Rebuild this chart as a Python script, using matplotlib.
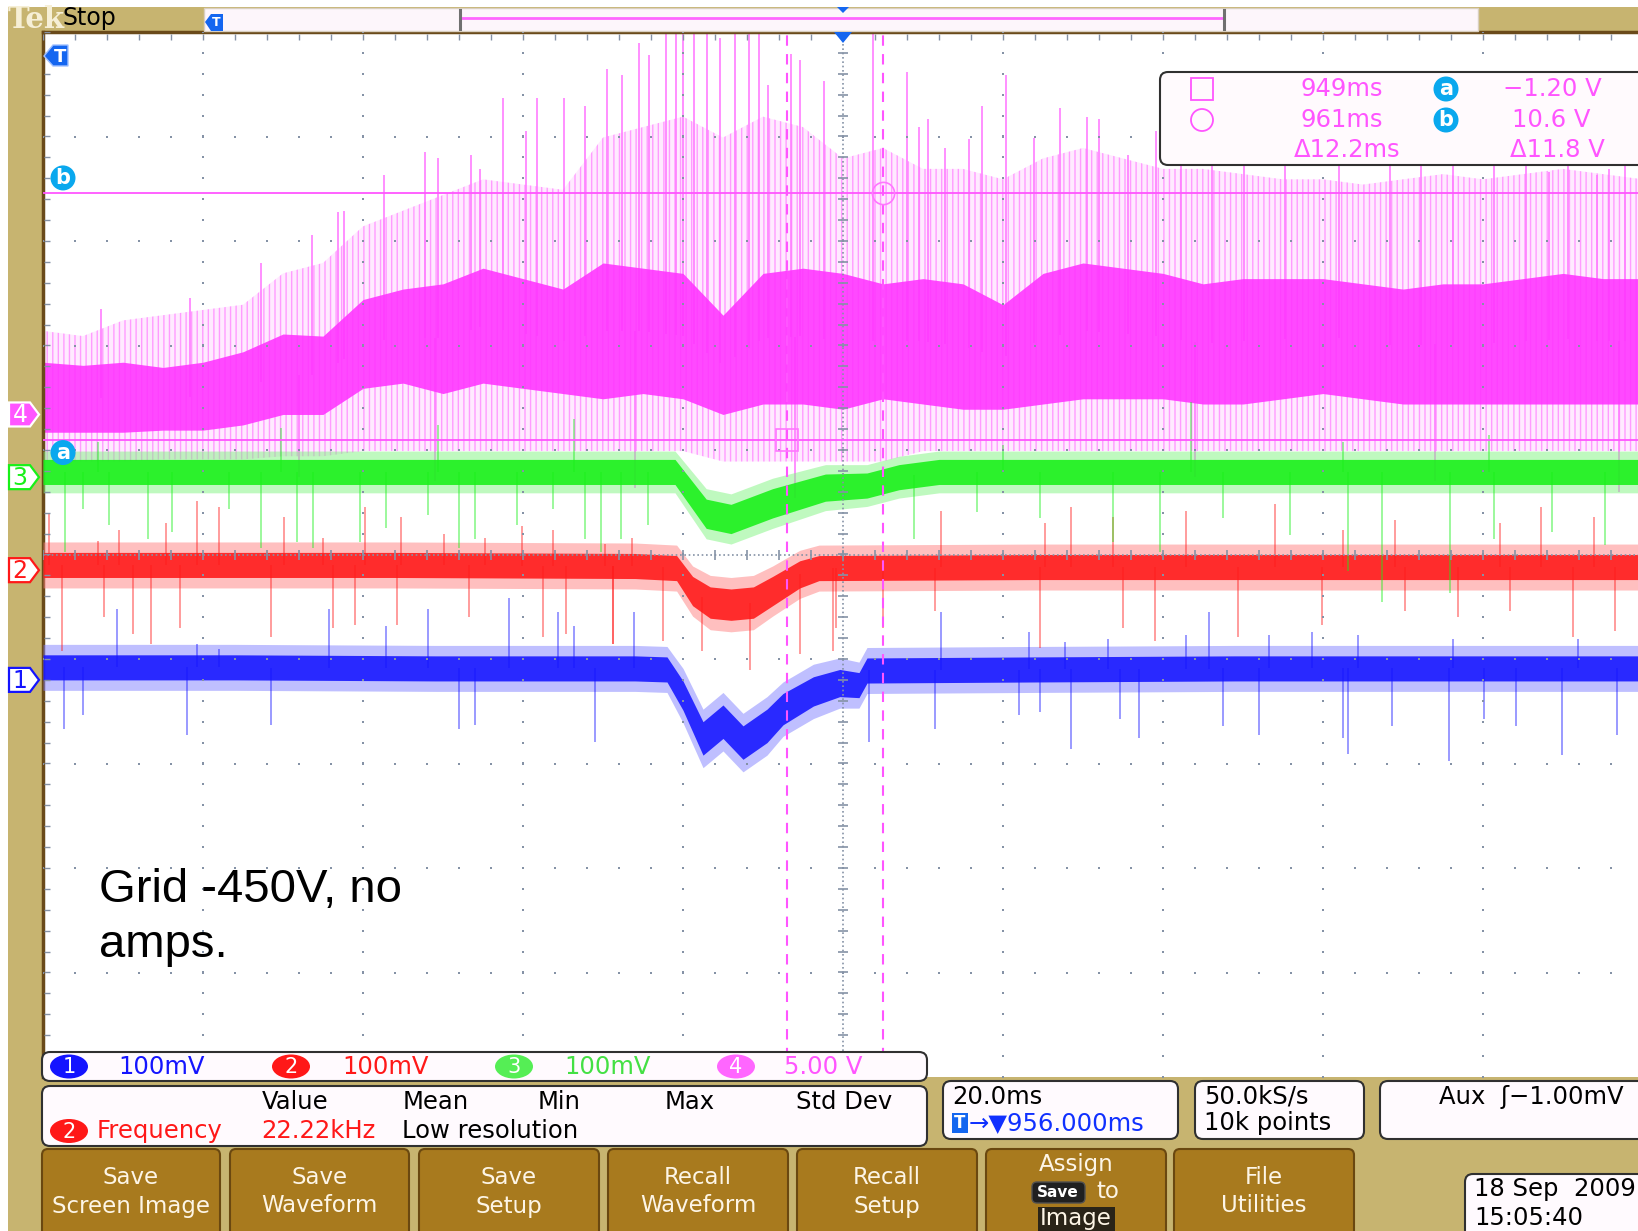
import numpy as np
import matplotlib
matplotlib.use("Agg")
import matplotlib.pyplot as plt
from matplotlib.patches import Rectangle, FancyBboxPatch, Polygon, Circle, Ellipse

plt.rcParams['font.family'] = ['DejaVu Sans']
plt.rcParams['hatch.linewidth'] = 1.0

# ---------------- data ----------------
T_START, T_STOP, T_DIV = 856.0, 1056.0, 20.0      # ms, 20.0 ms/div
TRIG_T = 956.0                                    # ms (trigger position)
CURSOR_T = [949.0, 961.0]                         # ms  (vertical cursors)
CURSOR_V = [-1.20, 10.6]                          # V   (horizontal cursors a, b on ch4)
CH_SCALE = {1: 100.0, 2: 100.0, 3: 100.0, 4: 5.0} # mV/div, V/div
CH_POS = {1: -1.20, 2: -0.15, 3: 0.74, 4: 1.34}   # ground marker position, divisions

# Channel 1 (blue, mV)
ch1_t = [856, 880, 905, 930, 934, 936, 938.5, 941, 943.5, 946.5, 948.5, 952.3, 955.6, 958, 959, 980, 1005, 1030, 1056]
ch1_mid = [12, 12, 11, 11, 10, -15, -56, -40, -60, -44, -28, -11, -3, -5, 9, 10, 11, 11, 11]
ch1_core = [12, 12, 12, 12, 12, 14, 16, 16, 16, 16, 15, 14, 13, 12, 12, 12, 12, 12, 12]
ch1_env = [22, 22, 22, 22, 22, 26, 28, 28, 28, 28, 26, 26, 24, 22, 22, 22, 22, 22, 22]
ch1_spk_t = [865.2, 875.3, 878.0, 891.7, 898.9, 904.1, 914.2, 920.4, 922.4, 929.9, 968.2, 979.3, 983.8,
             989.1, 998.9, 1001.8, 1009.3, 1014.6, 1020.4, 1032.2, 1047.9,
             858.6, 861.0, 874.0, 884.5, 908.0, 910.0, 925.0, 959.3, 967.5, 978.0, 980.6, 984.5, 990.6,
             993.0, 1003.5, 1008.0, 1018.5, 1019.1, 1024.6, 1031.8, 1036.1, 1040.1, 1045.9, 1052.7]
ch1_spk_v = [68, 34, 30, 68, 52, 68, 78, 65, 52, 65, 65, 46, 36, 39, 43, 65, 43, 46, 43, 39, 39,
             -47, -34, -53, -43, -47, -43, -59, -59, -47, -34, -31, -66, -37, -56, -44, -53, -56, -71,
             -44, -78, -37, -44, -72, -53]

# Channel 2 (red, mV)
ch2_t = [856, 900, 930, 935.2, 937.2, 939.4, 942, 944.8, 947.2, 950.6, 953, 980, 1020, 1056]
ch2_mid = [5, 5, 4, 2, -20, -31, -33, -31, -20, -4, 2, 3, 3, 3]
ch2_core = [12, 12, 12, 12, 14, 15, 15, 15, 14, 13, 12, 12, 12, 12]
ch2_env = [22, 22, 22, 22, 24, 26, 26, 26, 24, 23, 22, 22, 22, 22]
ch2_spk_t = [856.7, 862.9, 865.5, 871.4, 875.3, 878.0, 886.1, 891.0, 896.3, 900.8, 906.1, 911.3, 915.9,
             919.8, 926.3, 929.6, 968.2, 981.2, 984.5, 989.7, 998.9, 1010.0, 1018.5, 1025.0, 1038.1,
             1043.3, 1049.9,
             858.4, 863.6, 867.2, 869.5, 873.1, 884.5, 892.3, 895.0, 900.2, 909.3, 918.5, 921.4, 927.3,
             933.5, 927.2, 938.4, 944.4, 950.6, 954.8, 955.1, 961.0, 967.5, 980.6, 991.0, 995.0, 1005.4,
             1015.9, 1026.3, 1032.9, 1039.4, 1047.2, 1052.5]
ch2_spk_v = [54, 28, 38, 45, 66, 60, 51, 31, 60, 51, 35, 31, 42, 38, 25, 31, 57, 45, 60, 51, 57, 63, 38,
             48, 45, 60, 51,
             -77, -45, -61, -71, -55, -64, -55, -52, -52, -45, -64, -61, -71, -68, -71, -77, -96, -80,
             -77, -55, -55, -39, -74, -55, -68, -64, -52, -39, -45, -39, -64, -58]

# Channel 3 (green, mV)
ch3_t = [856, 900, 930, 935, 938.9, 942, 947.2, 953.8, 959, 963, 968, 1000, 1056]
ch3_mid = [5, 5, 5, 5, -35, -40, -25, -10, -8, 0, 5, 5, 5]
ch3_core = [12, 12, 12, 12, 14, 14, 14, 13, 12, 12, 12, 12, 12]
ch3_env = [20, 20, 20, 20, 24, 24, 24, 22, 20, 20, 20, 20, 20]
ch3_spk_t = [858.7, 861.0, 864.2, 869.1, 872.1, 879.3, 883.2, 887.8, 889.7, 895.6, 898.9, 904.1, 908.0,
             910.0, 915.2, 919.8, 923.7, 925.7, 928.3, 931.6, 964.9, 972.7, 980.6, 989.7, 995.6, 1003.5,
             1011.9, 1019.1, 1023.4, 1031.9, 1037.4, 1044.6, 1051.2,
             862.9, 885.8, 905.4, 922.4, 976.0, 999.5, 1018.5, 1036.8]
ch3_spk_v = [-72, -30, -46, -59, -52, -30, -68, -62, -68, -62, -49, -36, -68, -59, -46, -30, -59, -72,
             -59, -46, -59, -33, -39, -62, -72, -39, -55, -90, -119, -111, -59, -52, -65,
             34, 47, 50, 56, 31, 72, 34, 40]

# Channel 4 (magenta, V)
ch4_t = [856, 861, 866, 871, 876, 881, 886, 891, 896, 901, 906, 911, 916, 921, 926, 931, 936, 941,
         946, 951, 956, 961, 966, 971, 976, 981, 986, 991, 996, 1001, 1006, 1011, 1016, 1021, 1026,
         1031, 1036, 1041, 1046, 1051, 1056]
ch4_core_hi = [2.5, 2.35, 2.5, 2.25, 2.5, 3.0, 3.85, 3.75, 5.5, 6.0, 6.25, 7.0, 6.5, 6.0, 7.25, 7.0,
               6.75, 4.75, 6.75, 7.0, 6.75, 6.25, 6.5, 6.25, 5.25, 6.75, 7.25, 7.0, 6.75, 6.25, 6.5,
               6.5, 6.5, 6.25, 6.0, 6.25, 6.25, 6.5, 6.75, 6.5, 6.5]
ch4_core_lo = [-0.85, -0.85, -0.85, -0.75, -0.75, -0.5, 0.0, 0.0, 1.25, 1.5, 1.0, 1.5, 1.25, 1.0, 0.75,
               1.0, 0.75, 0.0, 0.5, 0.5, 0.25, 0.75, 0.5, 0.25, 0.25, 0.5, 0.75, 0.75, 0.75, 0.5, 0.5,
               0.75, 1.0, 0.75, 0.5, 0.5, 0.5, 0.5, 0.5, 0.5, 0.5]
ch4_env_hi = [4.0, 3.75, 4.5, 4.75, 5.0, 5.25, 6.75, 7.25, 9.0, 9.75, 10.5, 11.25, 11.0, 10.75, 13.25,
              13.75, 14.25, 13.25, 14.25, 13.75, 12.25, 12.75, 11.75, 11.75, 11.25, 12.25, 12.75,
              12.25, 11.75, 11.75, 11.5, 11.25, 11.25, 11.0, 11.25, 11.5, 11.25, 11.5, 11.75, 11.5, 11.25]
ch4_env_lo = [-2.25, -2.25, -2.25, -2.15, -2.15, -2.15, -2.0, -2.0, -1.75, -1.75, -1.75, -1.75, -1.75,
              -1.75, -1.75, -1.75, -1.75, -2.25, -2.25, -2.25, -2.25, -2.25, -1.75, -1.75, -1.75, -1.75,
              -1.75, -1.75, -1.75, -1.75, -1.75, -1.75, -1.75, -1.75, -1.75, -1.75, -1.75, -1.75, -1.75,
              -1.75, -1.75]
ch4_spk_t = [863.3, 874.4, 889.6, 892.9, 898.6, 903.8, 909.5, 913.5, 916.4, 917.8, 921.1, 926.5, 928.4,
             930.5, 931.7, 933.9, 935.1, 936.0, 937.4, 939.0, 940.6, 942.5, 944.2, 945.5, 946.6, 949.5,
             950.6, 953.6, 959.8, 964.0, 966.6, 971.8, 976.4, 983.1, 988.0, 991.6, 995.1, 1018.0,
             1032.2, 1044.2, 1050.2, 1053.8,
             883.2, 893.6, 905.4, 910.6, 923.7, 965.5, 968.8, 973.4, 979.9, 986.5, 998.2, 1002.1,
             1006.1, 1011.3, 1024.4, 1028.3, 1037.4, 1041.4, 1046.6, 1051.8,
             888.0, 905.0, 930.0, 950.0, 1000.0, 1030.0, 1053.0]
ch4_spk_v = [5.05, 5.55, 8.6, 9.7, 11.45, 12.55, 12.4, 15.15, 13.55, 15.15, 15.15, 16.55, 16.25, 17.75,
             17.2, 18.5, 18.5, 18.5, 18.5, 18.5, 18.0, 18.5, 18.5, 18.5, 15.75, 17.25, 16.95, 15.95,
             18.5, 16.4, 14.15, 13.2, 16.25, 14.65, 14.15, 12.4, 13.55, 11.95, 11.95, 11.6, 11.45, 12.25,
             7.25, 9.75, 12.25, 11.75, 14.75, 13.75, 12.75, 14.75, 13.25, 14.25, 13.25, 12.75,
             13.75, 12.25, 12.75, 12.25, 13.25, 12.5, 12.75, 11.75,
             -3.0, -3.2, -3.5, -4.0, -3.0, -3.2, -3.7]

# readouts
ch_labels = ['100mV', '100mV', '100mV', '5.00 V']
meas_headers = ['Value', 'Mean', 'Min', 'Max', 'Std Dev']
buttons = [['Save', 'Screen Image'], ['Save', 'Waveform'], ['Save', 'Setup'], ['Recall', 'Waveform'],
           ['Recall', 'Setup'], None, ['File', 'Utilities']]

# ---------------- colours ----------------
TAN = '#c7b470'
MAG = '#ff22ff'; MAG_L = '#ffa8ff'; MAG_T = '#ff55ff'
BLU = '#1414ff'; BLU_L = '#8080ff'
RED = '#ff1818'; RED_L = '#ff8080'
GRN = '#18f018'; GRN_L = '#80f580'
CYAN = '#0aa8ee'
DOT = '#8592a6'
BTN = '#a87a1e'

W, H = 1638, 1231
fig = plt.figure(figsize=(W / 100, H / 100), dpi=100)
fig.patch.set_facecolor('white')

bg = fig.add_axes([0, 0, 1, 1], zorder=0)
bg.set_xlim(0, W); bg.set_ylim(H, 0); bg.axis('off')
bg.add_patch(Rectangle((8, 7), W - 8, H - 7, color=TAN, lw=0))

# scope screen
L, TOP, BOT, RIGHT = 43, 32, 1077, 1643
sc = fig.add_axes([L / W, 1 - BOT / H, (RIGHT - L) / W, (BOT - TOP) / H], zorder=1)
sc.set_xlim(T_START, T_STOP); sc.set_ylim(-5, 5)
sc.set_facecolor('white')
sc.set_xticks([]); sc.set_yticks([])
for s in ['right', 'bottom']:
    sc.spines[s].set_visible(False)
for s in ['top', 'left']:
    sc.spines[s].set_color('#6a4a1a'); sc.spines[s].set_linewidth(2.5)

# graticule
ys_minor = np.arange(-5, 5.001, 0.2)
xs_minor = np.arange(T_START, T_STOP + 0.01, T_DIV / 5)
for i in range(1, 10):
    t = T_START + i * T_DIV
    if abs(t - TRIG_T) < 1e-6:
        continue
    sc.plot(np.full(ys_minor.size, t), ys_minor, ls='none', marker='s', ms=1.6, color=DOT, mew=0, zorder=6)
for j in range(-4, 5):
    if j == 0:
        continue
    sc.plot(xs_minor, np.full(xs_minor.size, j), ls='none', marker='s', ms=1.6, color=DOT, mew=0, zorder=6)
sc.plot([TRIG_T, TRIG_T], [-5, 5], ls=(0, (1, 1.6)), color=DOT, lw=1.2, zorder=6)
sc.plot(np.full(ys_minor.size, TRIG_T), ys_minor, ls='none', marker='_', ms=7, mew=1.2, color=DOT, zorder=6)
sc.plot([T_START, T_STOP], [0, 0], ls=(0, (1, 1.6)), color=DOT, lw=1.2, zorder=6)
sc.plot(xs_minor, np.zeros(xs_minor.size), ls='none', marker='|', ms=7, mew=1.2, color=DOT, zorder=6)
sc.plot(xs_minor, np.full(xs_minor.size, 4.95), ls='none', marker='|', ms=4, mew=1.0, color=DOT, zorder=6)
sc.plot(np.full(ys_minor.size, T_START + 0.5), ys_minor, ls='none', marker='_', ms=5, mew=1.0, color=DOT, zorder=6)


def to_div(ch, v):
    return CH_POS[ch] + np.asarray(v, float) / CH_SCALE[ch]


def draw_channel(ch, t, mid, core, env, spk_t, spk_v, col, col_l, z):
    mid = np.asarray(mid, float); core = np.asarray(core, float); env = np.asarray(env, float)
    # light noise fringe
    sc.fill_between(t, to_div(ch, mid - env), to_div(ch, mid + env), color=col_l, lw=0, alpha=0.5, zorder=z)
    base = np.interp(spk_t, t, mid)
    sc.vlines(spk_t, to_div(ch, base), to_div(ch, spk_v), color=col, lw=1.2, alpha=0.5, zorder=z + 0.1)
    # dense core
    sc.fill_between(t, to_div(ch, mid - core), to_div(ch, mid + core), color=col, lw=0, alpha=0.88,
                    zorder=z + 0.2)


# channel 4
t4 = np.asarray(ch4_t, float)
sc.fill_between(t4, to_div(4, ch4_env_lo), to_div(4, ch4_env_hi), facecolor='#ffeaff', edgecolor='#ff9cff',
                hatch='|||', lw=0, zorder=2)
base4 = np.interp(ch4_spk_t, t4, (np.asarray(ch4_core_hi) + np.asarray(ch4_core_lo)) / 2)
sc.vlines(ch4_spk_t, to_div(4, base4), to_div(4, ch4_spk_v), color='#ff7cff', lw=1.4, alpha=0.85, zorder=2.1)
sc.fill_between(t4, to_div(4, ch4_core_lo), to_div(4, ch4_core_hi), color='#ff33ff', lw=0, alpha=0.88,
                zorder=2.2)

draw_channel(1, ch1_t, ch1_mid, ch1_core, ch1_env, ch1_spk_t, ch1_spk_v, BLU, BLU_L, 3)
draw_channel(2, ch2_t, ch2_mid, ch2_core, ch2_env, ch2_spk_t, ch2_spk_v, RED, RED_L, 4)
draw_channel(3, ch3_t, ch3_mid, ch3_core, ch3_env, ch3_spk_t, ch3_spk_v, GRN, GRN_L, 5)

# cursors
for ct in CURSOR_T:
    sc.axvline(ct, color=MAG_T, lw=1.5, ls=(0, (5, 4)), zorder=7)
ya, yb = to_div(4, CURSOR_V[0]), to_div(4, CURSOR_V[1])
sc.axhline(ya, color=MAG_T, lw=1.3, zorder=7)
sc.axhline(yb, color=MAG_T, lw=1.3, zorder=7)
sc.plot([CURSOR_T[0]], [ya], marker='s', ms=16, mfc='none', mec='#ff77ff', mew=1.2, zorder=7)
sc.plot([CURSOR_T[1]], [yb], marker='o', ms=16, mfc='none', mec='#ff77ff', mew=1.2, zorder=7)

# ---------------- overlay UI ----------------
ui = fig.add_axes([0, 0, 1, 1], zorder=2)
ui.set_xlim(0, W); ui.set_ylim(H, 0); ui.axis('off'); ui.patch.set_alpha(0)


def div_px(t, ydiv):
    p = sc.transData.transform((t, ydiv))
    return ui.transData.inverted().transform(p)


FS = 17.5
# header
ui.text(8, 19, 'Tek', color='#f6efd6', fontsize=21, family='DejaVu Serif', fontweight='bold', va='center')
ui.text(63, 18, 'Stop', color='black', fontsize=17, va='center')
ui.add_patch(Rectangle((204, 8), 1274, 23, fc='#fdf6fb', ec='#d9cfc0', lw=1))
ui.plot([460, 1224], [18, 18], color='#ff66ff', lw=2)
ui.plot([460, 460], [10, 29], color='#707070', lw=2.2)
ui.plot([1224, 1224], [10, 29], color='#707070', lw=2.2)
ui.add_patch(Polygon([(205, 22), (211, 14), (223, 14), (223, 31), (211, 31)], closed=True, fc='#1466f0', lw=0))
ui.text(216, 23, 'T', color='white', fontsize=9, fontweight='bold', ha='center', va='center')
ui.add_patch(Polygon([(837, 7), (849, 7), (843, 13)], closed=True, fc='#1466f0', lw=0))

# trigger position marker
xt, ytop = div_px(TRIG_T, 5)
ui.add_patch(Polygon([(xt - 9, ytop), (xt + 9, ytop), (xt, ytop + 11)], closed=True, fc='#1466f0', lw=0))

# T marker top-left
ui.add_patch(Polygon([(44, 56), (53, 45), (68, 45), (68, 66), (53, 66)], closed=True, fc='#1466f0', ec='#a0c0ff', lw=1))
ui.text(60, 56.5, 'T', color='white', fontsize=13, fontweight='bold', ha='center', va='center')

# cursor a/b icons
for lab, v, dy in [('a', CURSOR_V[0], 13), ('b', CURSOR_V[1], -15)]:
    _, yy = div_px(T_START, to_div(4, v))
    ui.add_patch(Circle((63, yy + dy), 12.5, fc=CYAN, lw=0))
    ui.text(63, yy + dy, lab, color='white', fontsize=15, fontweight='bold', ha='center', va='center')

# channel ground markers
mk = {1: (BLU, 'white', BLU), 2: (RED, 'white', RED), 3: (GRN, 'white', GRN), 4: ('#ff55ff', '#ff55ff', 'white')}
for ch in [4, 3, 2, 1]:
    _, yy = div_px(T_START, CH_POS[ch])
    ec, fc, tc = mk[ch]
    ui.add_patch(Polygon([(9, yy - 12), (30, yy - 12), (39, yy), (30, yy + 12), (9, yy + 12)], closed=True,
                         fc=fc, ec=ec if ch != 4 else 'white', lw=1.6))
    ui.text(20, yy + 1, str(ch), color=tc, fontsize=17, ha='center', va='center')

# cursor readout box
ui.add_patch(FancyBboxPatch((1160, 72), 500, 93, boxstyle='round,pad=0,rounding_size=8', fc='#fffafd',
                            ec='#303030', lw=1.5, zorder=3))
ui.add_patch(Rectangle((1191, 78), 22, 22, fc='none', ec=MAG_T, lw=1.3, zorder=4))
ui.add_patch(Circle((1202, 120), 11, fc='none', ec=MAG_T, lw=1.3, zorder=4))
ui.text(1383, 89, '949ms', color=MAG_T, fontsize=FS, ha='right', va='center', zorder=4)
ui.text(1383, 120, '961ms', color=MAG_T, fontsize=FS, ha='right', va='center', zorder=4)
ui.text(1400, 150, 'Δ12.2ms', color=MAG_T, fontsize=FS, ha='right', va='center', zorder=4)
for lab, yy in [('a', 89), ('b', 120)]:
    ui.add_patch(Circle((1446, yy), 12.5, fc=CYAN, lw=0, zorder=4))
    ui.text(1446, yy, lab, color='white', fontsize=15, fontweight='bold', ha='center', va='center', zorder=5)
ui.text(1602, 89, '−1.20 V', color=MAG_T, fontsize=FS, ha='right', va='center', zorder=4)
ui.text(1591, 120, '10.6 V', color=MAG_T, fontsize=FS, ha='right', va='center', zorder=4)
ui.text(1605, 150, 'Δ11.8 V', color=MAG_T, fontsize=FS, ha='right', va='center', zorder=4)

# annotation
ui.text(99, 890, 'Grid -450V, no', family='Liberation Sans', fontsize=34, color='black',
        va='center', ha='left')
ui.text(99, 945, 'amps.', family='Liberation Sans', fontsize=34, color='black',
        va='center', ha='left')

# channel readout box
ui.add_patch(FancyBboxPatch((42, 1052), 885, 29, boxstyle='round,pad=0,rounding_size=8', fc='#fffafe',
                            ec='#303030', lw=1.5, zorder=3))
ch_cols = [(BLU, BLU), (RED, RED), ('#55ee55', '#44e044'), ('#ff66ff', '#ff55ff')]
for k, (x_e, x_t) in enumerate([(69, 118), (291, 342), (514, 564), (736, 784)]):
    ui.add_patch(Ellipse((x_e, 1066.5), 38, 24, fc=ch_cols[k][0], lw=0, zorder=4))
    ui.text(x_e, 1067, str(k + 1), color='white', fontsize=15, ha='center', va='center', zorder=5)
    ui.text(x_t, 1067, ch_labels[k], color=ch_cols[k][1], fontsize=FS, ha='left', va='center', zorder=5)

# measurement box
ui.add_patch(FancyBboxPatch((42, 1086), 885, 60, boxstyle='round,pad=0,rounding_size=8', fc='#fffafe',
                            ec='#303030', lw=1.5, zorder=3))
for hx, hd in zip([295, 436, 559, 690, 844], meas_headers):
    ui.text(hx, 1102, hd, color='black', fontsize=FS, ha='center', va='center', zorder=4)
ui.add_patch(Ellipse((69, 1131), 38, 24, fc=RED, lw=0, zorder=4))
ui.text(69, 1131.5, '2', color='white', fontsize=15, ha='center', va='center', zorder=5)
ui.text(97, 1131, 'Frequency', color=RED, fontsize=FS, ha='left', va='center', zorder=4)
ui.text(261, 1131, '22.22kHz', color=RED, fontsize=FS, ha='left', va='center', zorder=4)
ui.text(402, 1131, 'Low resolution', color='black', fontsize=FS, ha='left', va='center', zorder=4)

# horizontal / acquisition / trigger boxes
for x0, w in [(943, 235), (1195, 169), (1380, 300)]:
    ui.add_patch(FancyBboxPatch((x0, 1081), w, 58, boxstyle='round,pad=0,rounding_size=8', fc='#fffafe',
                                ec='#303030', lw=1.5, zorder=3))
ui.text(952, 1097, '20.0ms', color='black', fontsize=FS, ha='left', va='center', zorder=4)
ui.add_patch(Rectangle((952, 1113), 16, 20, fc='#1466f0', lw=0, zorder=4))
ui.text(960, 1123.5, 'T', color='white', fontsize=12, fontweight='bold', ha='center', va='center', zorder=5)
ui.text(969, 1123, '→▼956.000ms', color='#1030ff', fontsize=FS, ha='left', va='center', zorder=4)
ui.text(1204, 1097, '50.0kS/s', color='black', fontsize=FS, ha='left', va='center', zorder=4)
ui.text(1204, 1123, '10k points', color='black', fontsize=FS, ha='left', va='center', zorder=4)
ui.text(1624, 1097, 'Aux  ʃ−1.00mV', color='black', fontsize=FS, ha='right', va='center', zorder=4)

# buttons
btn_x = [(42, 220), (230, 409), (419, 599), (608, 788), (797, 977), (986, 1166), (1174, 1354)]
for (x0, x1), lab in zip(btn_x, buttons):
    ui.add_patch(FancyBboxPatch((x0, 1149), x1 - x0, 100, boxstyle='round,pad=0,rounding_size=6', fc=BTN,
                                ec='#6a4810', lw=1.5, zorder=3))
    xc = (x0 + x1) / 2
    if lab is not None:
        ui.text(xc, 1178, lab[0], color='#fdf5e6', fontsize=16.5, ha='center', va='center', zorder=4)
        ui.text(xc, 1206, lab[1], color='#fdf5e6', fontsize=16.5, ha='center', va='center', zorder=4)
    else:
        ui.text(xc, 1165, 'Assign', color='#fdf5e6', fontsize=16.5, ha='center', va='center', zorder=4)
        ui.add_patch(FancyBboxPatch((1032, 1182), 53, 21, boxstyle='round,pad=0,rounding_size=5', fc='#202020',
                                    ec='#505050', lw=1, zorder=4))
        ui.text(1058, 1192.5, 'Save', color='white', fontsize=11, fontweight='bold', ha='center', va='center', zorder=5)
        ui.text(1108, 1192, 'to', color='#fdf5e6', fontsize=16.5, ha='center', va='center', zorder=4)
        ui.add_patch(Rectangle((1038, 1207), 77, 26, fc='#2a2418', lw=0, zorder=4))
        ui.text(1076, 1219, 'Image', color='#fdf5e6', fontsize=16.5, ha='center', va='center', zorder=5)

# date box
ui.add_patch(FancyBboxPatch((1465, 1174), 200, 70, boxstyle='round,pad=0,rounding_size=8', fc='#fffafe',
                            ec='#303030', lw=1.5, zorder=3))
ui.text(1474, 1189, '18 Sep  2009', color='black', fontsize=FS, ha='left', va='center', zorder=4)
ui.text(1474, 1218, '15:05:40', color='black', fontsize=FS, ha='left', va='center', zorder=4)

fig.savefig('out.png', dpi=100, facecolor=fig.get_facecolor())
